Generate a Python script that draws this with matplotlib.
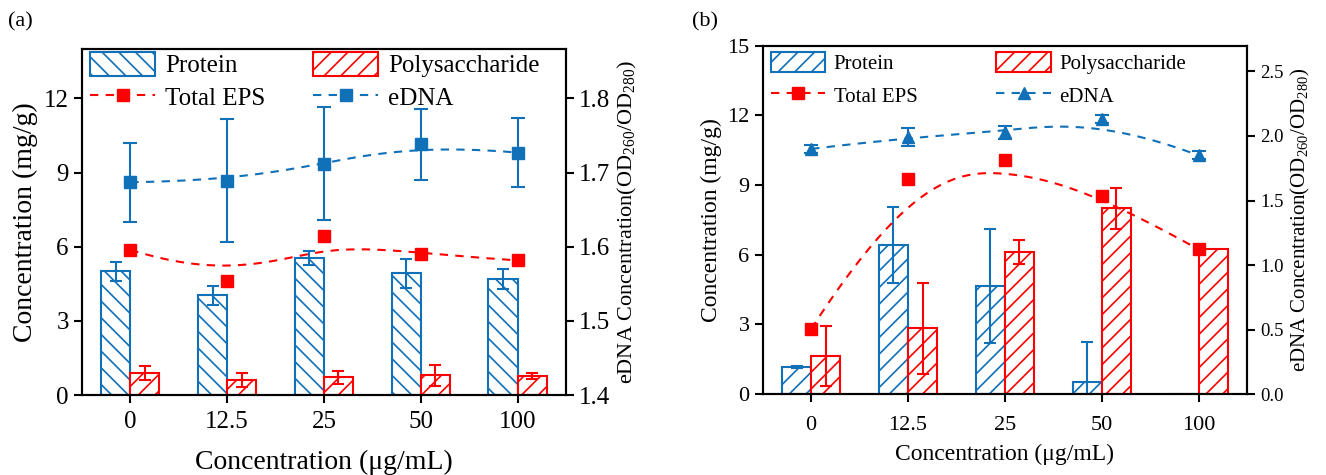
"""
EPS / eDNA, dwa panele (a) i (b)
"""
import numpy as np
import matplotlib
matplotlib.use("Agg")
from matplotlib import pyplot as plt
from matplotlib.lines import Line2D
from matplotlib.patches import Patch

plt.rcParams['font.family'] = ['Liberation Serif', 'DejaVu Serif']
plt.rcParams['mathtext.fontset'] = 'custom'
plt.rcParams['mathtext.rm'] = 'Liberation Serif'
plt.rcParams['hatch.linewidth'] = 1.2

categories = ["0", "12.5", "25", "50", "100"]

# panel (a)
prot_a = [5.0, 4.03, 5.54, 4.93, 4.69]
prot_a_err = [0.40, 0.38, 0.27, 0.58, 0.42]
poly_a = [0.90, 0.61, 0.72, 0.79, 0.78]
poly_a_err = [0.29, 0.27, 0.27, 0.44, 0.13]
eps_a = [5.88, 4.63, 6.45, 5.69, 5.45]
dna_a = [1.687, 1.689, 1.712, 1.738, 1.727]
dna_a_err = [0.053, 0.083, 0.076, 0.048, 0.046]

# panel (b)
prot_b = [1.16, 6.41, 4.66, 0.53, 0.0]
prot_b_err = [0.03, 1.65, 2.45, 1.72, 0.0]
poly_b = [1.65, 2.83, 6.10, 7.99, 6.24]
poly_b_err = [1.29, 1.97, 0.52, 0.88, 0.0]
eps_b = [2.80, 9.25, 10.07, 8.54, 6.23]
dna_b = [1.90, 1.99, 2.03, 2.13, 1.85]
dna_b_err = [0.03, 0.07, 0.05, 0.03, 0.03]

blue = "#1070b8"
red = "#ff0000"
dash = (0, (4, 3.5))


def bspline(xs, ys, k=3, num=200):
    # krzywa B-spline (jak w Origin), punkty kontrolne = dane
    P = np.column_stack([xs, ys]).astype(float)
    n = len(P)
    t = np.concatenate([np.zeros(k), np.linspace(0, 1, n - k + 1), np.ones(k)])
    u = np.linspace(0, 1 - 1e-9, num)
    m = len(t) - 1
    N = np.zeros((num, m))
    for i in range(m):
        N[:, i] = (t[i] <= u) & (u < t[i + 1])
    for d in range(1, k + 1):
        for i in range(m - d):
            left = 0
            right = 0
            if t[i + d] - t[i] > 0:
                left = (u - t[i]) / (t[i + d] - t[i]) * N[:, i]
            if t[i + d + 1] - t[i + 1] > 0:
                right = (t[i + d + 1] - u) / (t[i + d + 1] - t[i + 1]) * N[:, i + 1]
            N[:, i] = left + right
    C = N[:, :n] @ P
    return C[:, 0], C[:, 1]


def panel(ax, prot, prot_err, poly, poly_err, eps, dna, dna_err,
          prot_hatch, dna_marker, ylim, yticks, rlim, rticks,
          fs_tick, fs_rtick, fs_lab, fs_rlab, fs_leg, xpad, xlabpad,
          colsp, labsp, leg_y):
    x = np.arange(len(categories))
    w = 0.3
    ax.bar(x - w / 2, prot, w, facecolor="white", edgecolor=blue,
           hatch=prot_hatch, linewidth=1.5, zorder=2)
    ax.bar(x + w / 2, poly, w, facecolor="white", edgecolor=red,
           hatch="//", linewidth=1.5, zorder=2)
    pe = np.array(prot_err)
    qe = np.array(poly_err)
    mask_p = pe > 0
    mask_q = qe > 0
    ax.errorbar((x - w / 2)[mask_p], np.array(prot)[mask_p], yerr=pe[mask_p],
                fmt="none", ecolor=blue, elinewidth=1.5, capsize=4, capthick=1.5, zorder=3)
    ax.errorbar((x + w / 2)[mask_q], np.array(poly)[mask_q], yerr=qe[mask_q],
                fmt="none", ecolor=red, elinewidth=1.5, capsize=4, capthick=1.5, zorder=3)
    sx, sy = bspline(x, eps)
    ax.plot(sx, sy, color=red, linestyle=dash, linewidth=1.5, zorder=4)
    ax.plot(x, eps, "s", color=red, markersize=8, zorder=5)

    ax.set_xlim(-0.5, 4.5)
    ax.set_ylim(*ylim)
    ax.set_yticks(yticks)
    ax.set_xticks(x)
    ax.set_xticklabels(categories)
    ax.tick_params(direction="out", length=6, width=1.5, labelsize=fs_tick)
    ax.tick_params(axis="x", pad=xpad)
    for s in ax.spines.values():
        s.set_linewidth(1.5)
    ax.set_ylabel("Concentration (mg/g)", fontsize=fs_lab)
    ax.set_xlabel("Concentration (\u03bcg/mL)", fontsize=fs_lab, labelpad=xlabpad)

    ax2 = ax.twinx()
    dx, dy = bspline(x, dna)
    ax2.plot(dx, dy, color=blue, linestyle=dash, linewidth=1.5, zorder=4)
    ax2.errorbar(x, dna, yerr=dna_err, fmt=dna_marker, color=blue, markersize=9,
                 elinewidth=1.5, capsize=5, capthick=1.5, zorder=5)
    ax2.set_ylim(*rlim)
    ax2.set_yticks(rticks)
    ax2.set_yticklabels(["{:.1f}".format(v) for v in rticks])
    ax2.tick_params(direction="out", length=6, width=1.5, labelsize=fs_rtick)
    for s in ax2.spines.values():
        s.set_linewidth(1.5)
    ax2.set_ylabel("eDNA Concentration(OD$_{260}$/OD$_{280}$)", fontsize=fs_rlab)

    handles = [
        Patch(facecolor="white", edgecolor=blue, hatch=prot_hatch, linewidth=1.5),
        Line2D([], [], color=red, linestyle=dash, marker="s", markersize=8, lw=1.5),
        Patch(facecolor="white", edgecolor=red, hatch="//", linewidth=1.5),
        Line2D([], [], color=blue, linestyle=dash, marker=dna_marker, markersize=9, lw=1.5),
    ]
    labels = ["Protein", "Total EPS", "Polysaccharide", "eDNA"]
    ax2.legend(handles, labels, ncol=2, loc="upper left", frameon=False,
               fontsize=fs_leg, handlelength=2.6, handleheight=1.1,
               columnspacing=colsp, handletextpad=0.4, labelspacing=labsp,
               borderaxespad=0.0, borderpad=0.05, bbox_to_anchor=(0.015, leg_y))
    return ax2


fig = plt.figure(figsize=(13.26, 4.75), dpi=100)
ax_a = fig.add_axes([0.0618, 0.1684, 0.365, 0.7284])
ax_b = fig.add_axes([0.5752, 0.1705, 0.3652, 0.7333])

panel(ax_a, prot_a, prot_a_err, poly_a, poly_a_err, eps_a, dna_a, dna_a_err,
      "\\\\", "s", (0, 14), [0, 3, 6, 9, 12], (1.4, 1.4 + 14 / 30),
      [1.4, 1.5, 1.6, 1.7, 1.8], 18, 18, 20, 16, 18,
      xpad=5.5, xlabpad=12, colsp=1.9, labsp=0.3, leg_y=0.995)
panel(ax_b, prot_b, prot_b_err, poly_b, poly_b_err, eps_b, dna_b, dna_b_err,
      "//", "^", (0, 15), [0, 3, 6, 9, 12, 15], (0, 2.7),
      [0.0, 0.5, 1.0, 1.5, 2.0, 2.5], 16, 13.5, 17, 15, 15,
      xpad=10, xlabpad=6, colsp=3.8, labsp=0.5, leg_y=0.985)

fig.text(0.006, 0.955, "(a)", fontsize=16, va="center")
fig.text(0.522, 0.955, "(b)", fontsize=16, va="center")

fig.savefig("out.png", dpi=100)
